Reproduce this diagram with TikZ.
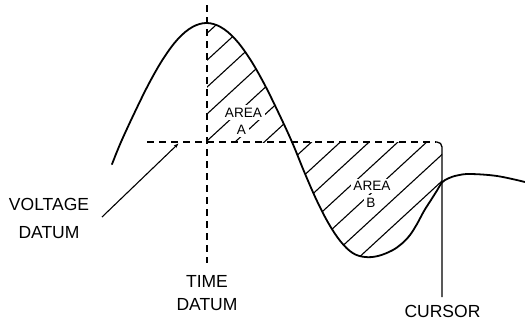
\documentclass[tikz,border=0pt]{standalone}
\usepackage{fontspec}
\setmainfont{Liberation Sans}
\usetikzlibrary{arrows.meta}
\begin{document}
\begin{tikzpicture}[x=1pt,y=-1pt,
  wavestyle/.style={line width=1.8pt, line join=round, line cap=round},
  hatch/.style={line width=1.1pt},
  datum/.style={line width=1.3pt, dash pattern=on 7pt off 5pt},
  lbl/.style={font=\fontsize{17.5}{18}\selectfont, inner sep=0pt},
  arealbl/.style={font=\fontsize{13.6}{14}\selectfont, fill=white, inner sep=2.5pt}]
\useasboundingbox (0,0) rectangle (525,324);
\def\wave{plot[smooth, tension=0.6] coordinates {(112,164.2) (121,142) (135.25,111.2) (149.5,82.5) (163.75,57.9) (178,38.9) (192.25,27.1) (206.5,23) (220.75,27.1) (235,38.9) (249.25,57.9) (263.5,82.5) (277.75,111.2) (292,142) (304.2,171.8) (316.3,199.5) (328.5,223.3) (340.7,241.6) (352.8,253.1) (365,257) (378,256) (392,250.5) (402,243.5) (410,235) (417,224) (424,211) (431,200) (437,190.5) (442,182.5) (448,178.5) (457,175.5) (470,174) (497,176) (525,182)}}
% hatching of area A
\begin{scope}
  \clip (207,0) rectangle (300,142);
  \clip \wave -- (525,400) -- (112,400) -- cycle;
  \foreach \k in {0,...,7}{
    \draw[hatch] (150,{33.3+26.9*\k+0.92*57}) -- (350,{33.3+26.9*\k-0.92*143});
  }
\end{scope}
% hatching of area B
\begin{scope}
  \clip (290,142) rectangle (442,400);
  \clip \wave -- (525,-50) -- (112,-50) -- cycle;
  \foreach \j in {0,...,7}{
    \draw[hatch] (280,{181-26.5*\j+0.92*162}) -- (450,{181-26.5*\j-0.92*8});
  }
\end{scope}
% area labels
\node[arealbl] (areaA1) at (243.5,112.5) {AREA};
\node[arealbl] (areaA2) at (241.5,130) {A};
\node[arealbl] (areaB1) at (372,186) {AREA};
\node[arealbl] (areaB2) at (371,202.5) {B};
% datums
\coordinate (tdtop) at (207,5);
\coordinate (tdbot) at (207,263);
\coordinate (vdleft) at (147,142);
\coordinate (vdright) at (436,142);
\coordinate (curtop) at (442,142);
\coordinate (curbot) at (442,297);
\draw[datum] (tdtop) -- (tdbot);
\draw[datum] (vdleft) -- (vdright);
\draw[line width=1.3pt, rounded corners=5pt] (curbot) -- (curtop) -- (vdright);
% waveform
\draw[wavestyle] \wave;
% labels
\node[lbl] (vd1) at (49,204.5) {VOLTAGE};
\node[lbl] (vd2) at (49,232.5) {DATUM};
\node[lbl] (td1) at (207,281.5) {TIME};
\node[lbl] (td2) at (207,305) {DATUM};
\node[lbl] (cur) at (442.5,311.5) {CURSOR};
% voltage datum leader
\coordinate (vdfoot) at (102,217);
\coordinate (vdtip) at (178.5,143.5);
\draw[line width=1.1pt, -{Stealth[length=5pt,width=3.5pt]}] (vdfoot) -- (vdtip);
\end{tikzpicture}
\end{document}
